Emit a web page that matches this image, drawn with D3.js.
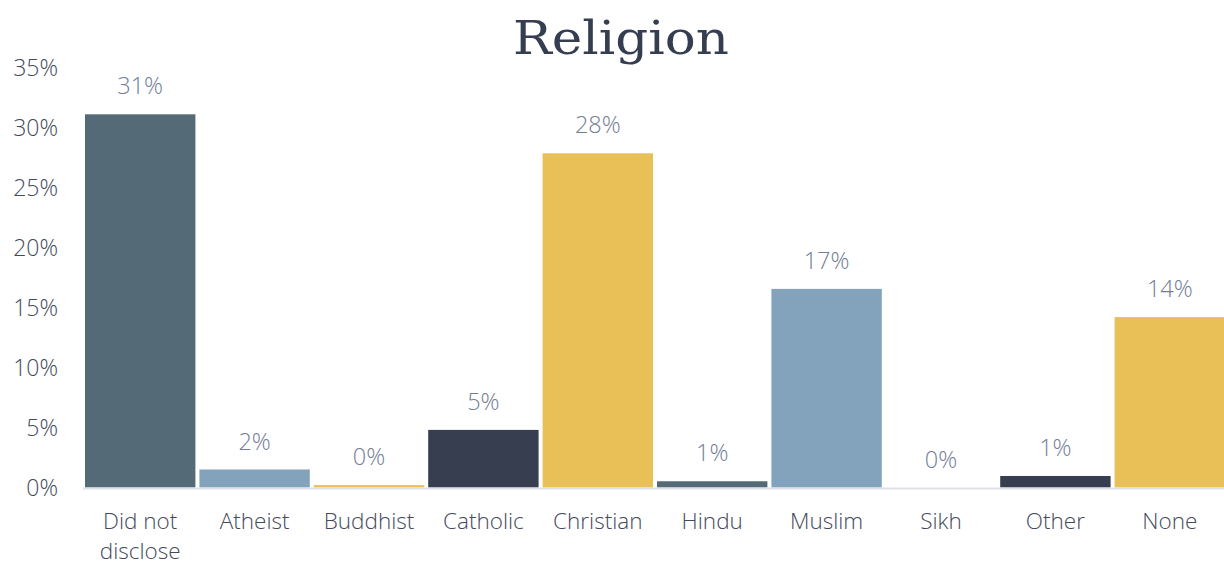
<!DOCTYPE html>
<html><head><meta charset="utf-8">
<script src="https://cdn.jsdelivr.net/npm/d3@7"></script>
<style>body{margin:0;background:#fff}svg{display:block}</style>
</head><body>
<svg id="chart" width="1224" height="565"></svg>
<script>
const categories = ["Did not disclose","Atheist","Buddhist","Catholic","Christian","Hindu","Muslim","Sikh","Other","None"];
const values = [31.1, 1.5, 0.2, 4.8, 27.85, 0.52, 16.55, 0, 0.96, 14.2];
const barColors = ["#546b77","#82a3bb","#e9bf57","#373e50","#e9bf57","#546b77","#82a3bb","#e9bf57","#373e50","#e9bf57"];
const yTicks = [0,5,10,15,20,25,30,35];
const title = "Religion";

const svg = d3.select("#chart");
const x = d3.scaleBand().domain(categories).range([83,1227]).paddingInner(0.035).paddingOuter(0.0175);
const y = d3.scaleLinear().domain([0,35]).range([487.5,67.5]);

svg.append("text").attr("x",621).attr("y",54).attr("text-anchor","middle")
  .attr("font-family","'DejaVu Serif', serif").attr("font-size",46).attr("fill","#353d50")
  .attr("textLength",216).attr("lengthAdjust","spacingAndGlyphs").text(title);

// y axis labels
const yAxis = d3.axisLeft(y).tickValues(yTicks).tickFormat(d=>d+"%").tickSize(0).tickPadding(0);
const ga = svg.append("g").attr("transform","translate(58,0)").call(yAxis);
ga.select(".domain").remove();
ga.selectAll("text").attr("font-family","'Open Sans', sans-serif").attr("font-weight",300)
  .attr("font-size",23).attr("fill","#434a5b").attr("dy","0.36em");

// bars
svg.selectAll("rect.bar").data(categories).enter().append("rect").attr("class","bar")
  .attr("x",d=>x(d)).attr("width",x.bandwidth())
  .attr("y",(d,i)=>y(values[i])).attr("height",(d,i)=>y(0)-y(values[i]))
  .attr("fill",(d,i)=>barColors[i]);

// baseline
svg.append("line").attr("x1",83).attr("x2",1224).attr("y1",488.5).attr("y2",488.5)
  .attr("stroke","#dfe2e8").attr("stroke-width",2);

// value labels
svg.selectAll("text.val").data(categories).enter().append("text").attr("class","val")
  .attr("x",d=>x(d)+x.bandwidth()/2).attr("y",(d,i)=>y(values[i])-20)
  .attr("text-anchor","middle").attr("font-family","'Open Sans', sans-serif").attr("font-weight",300)
  .attr("font-size",23.5).attr("fill","#737d96").text((d,i)=>Math.round(values[i])+"%");

// category labels
const gx = svg.append("g");
categories.forEach((c,i)=>{
  const lines = c==="Did not disclose" ? ["Did not","disclose"] : [c];
  const t = gx.append("text").attr("x",x(c)+x.bandwidth()/2).attr("y",528.5)
    .attr("text-anchor","middle").attr("font-family","'Open Sans', sans-serif").attr("font-weight",300)
    .attr("font-size",22.5).attr("fill","#434a5b");
  lines.forEach((l,j)=>t.append("tspan").attr("x",x(c)+x.bandwidth()/2).attr("dy",j?30:0).text(l));
});
</script>
</body></html>
